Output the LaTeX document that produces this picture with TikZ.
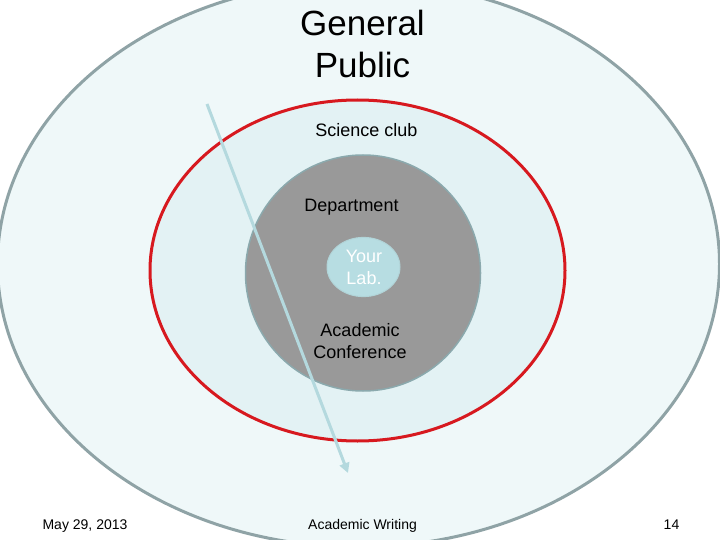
\documentclass[tikz,border=0pt]{standalone}
\usepackage{fontspec}
\setmainfont{Liberation Sans}
\usetikzlibrary{arrows.meta}
\definecolor{outerfill}{HTML}{EFF8F9}
\definecolor{outerline}{HTML}{8FA3A6}
\definecolor{midfill}{HTML}{E3F2F4}
\definecolor{redline}{HTML}{D7191F}
\definecolor{deptfill}{HTML}{999999}
\definecolor{deptline}{HTML}{8BA9AD}
\definecolor{labfill}{HTML}{B7DDE2}
\definecolor{arrowcol}{HTML}{B4D9DE}
\begin{document}
\begin{tikzpicture}[x=1pt,y=-1pt,
  lbl/.style={font=\fontsize{18}{22}\selectfont, align=center, inner sep=0pt},
  biglbl/.style={font=\fontsize{35}{42}\selectfont, align=center, inner sep=0pt},
  footlbl/.style={font=\fontsize{14}{16}\selectfont, inner sep=0pt, anchor=base}]
\useasboundingbox (0,0) rectangle (720,540);
\fill[white] (0,0) rectangle (720,540);
\begin{scope}
  \clip (0,0) rectangle (720,540);
  \draw[outerline, line width=3pt, fill=outerfill] (358.5,264) ellipse [x radius=361, y radius=283];
\end{scope}
\draw[redline, line width=3pt, fill=midfill] (357.5,270.5) ellipse [x radius=207.5, y radius=170.5];
\draw[deptline, line width=1.5pt, fill=deptfill] (363,273) ellipse [x radius=117.5, y radius=118];
\draw[labfill!90!gray, line width=1pt, fill=labfill] (363.5,267) ellipse [x radius=36.5, y radius=29.6];
\coordinate (arrowstart) at (207,104);
\coordinate (arrowend) at (348,473);
\draw[arrowcol, line width=3pt, -{Triangle[length=10pt, width=10pt]}] (arrowstart) -- (arrowend);
\node[biglbl] (general) at (362.5,44.3) {General\\Public};
\node[lbl, anchor=base] (science) at (366.5,137) {Science club};
\node[lbl, anchor=base] (dept) at (351.5,211.7) {Department};
\node[lbl, text=white] (lab) at (364,267.7) {Your\\Lab.};
\node[lbl] (conf) at (360,341) {Academic\\Conference};
\node[footlbl] (date) at (85,529) {May 29, 2013};
\node[footlbl] (title) at (362.5,529) {Academic Writing};
\node[footlbl] (page) at (671.5,529) {14};
\end{tikzpicture}
\end{document}
